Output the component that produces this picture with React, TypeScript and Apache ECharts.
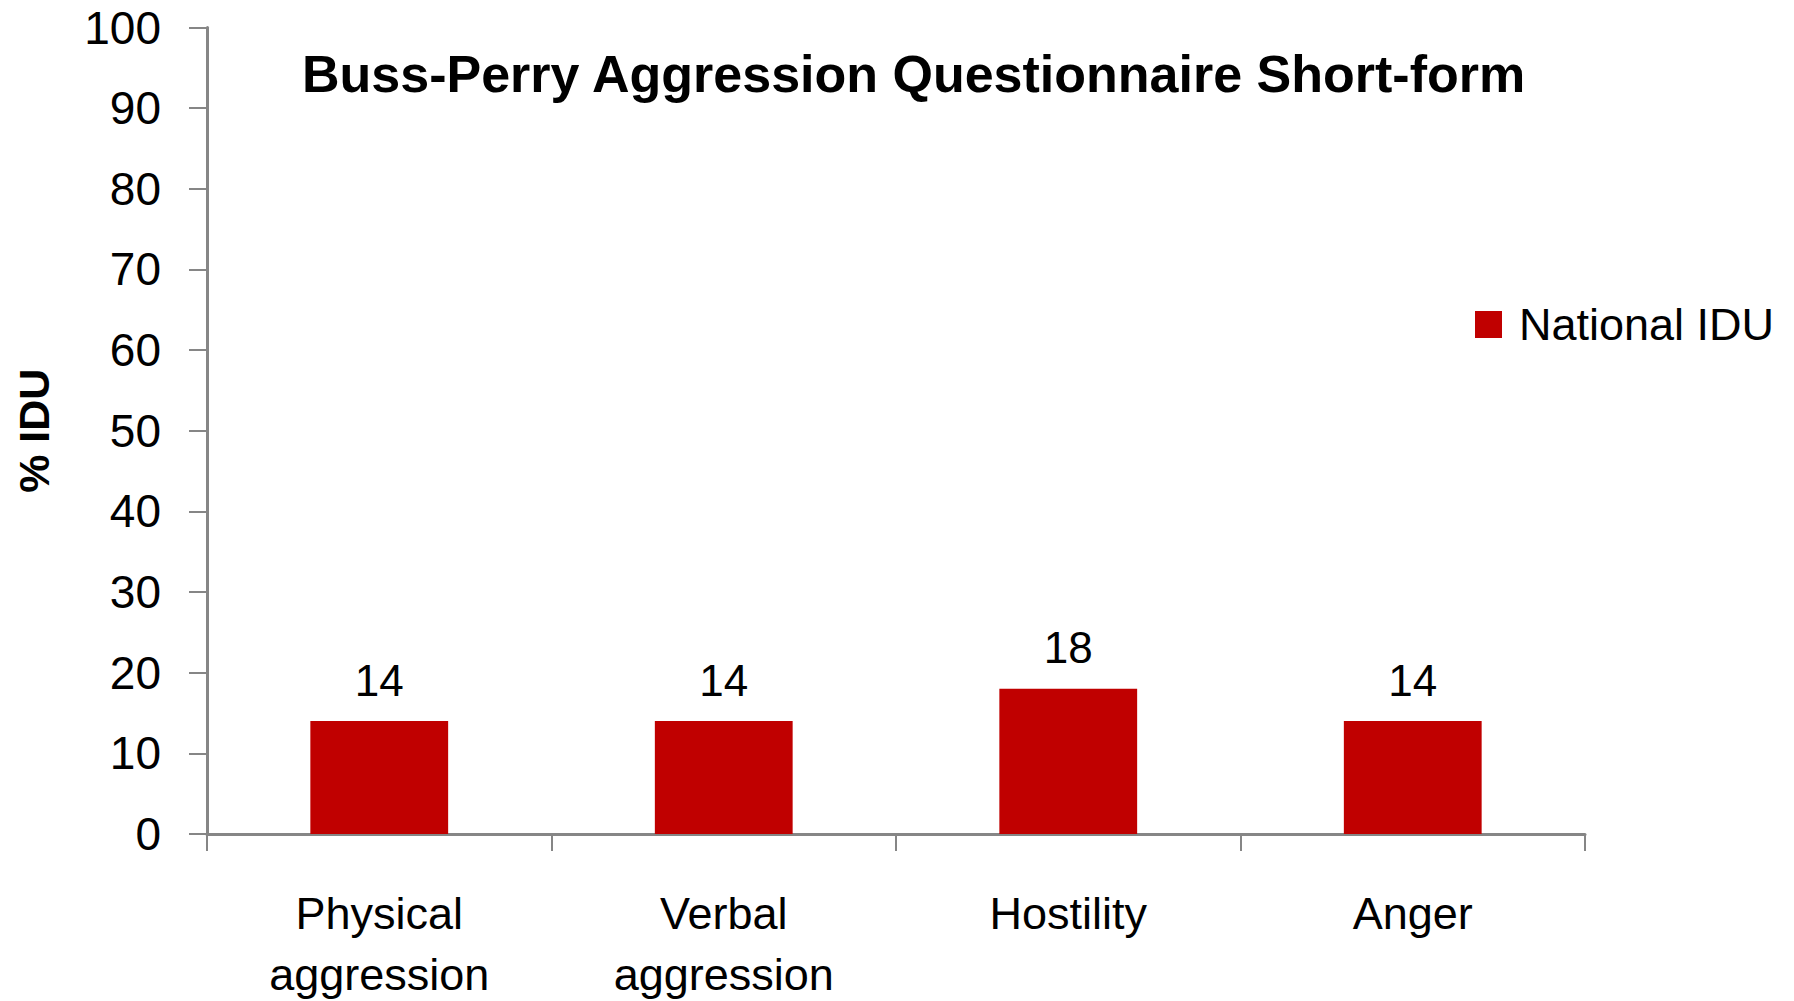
import React, { useEffect, useRef } from "react";
import * as echarts from "echarts";

const categories = ["Physical\naggression", "Verbal\naggression", "Hostility", "Anger"];
const nationalIDU = [14, 14, 18, 14];
const titleText = "Buss-Perry Aggression Questionnaire Short-form";
const seriesName = "National IDU";
const yAxisName = "% IDU";

const FONT = "Liberation Sans, Arial, sans-serif";
const AXIS_COLOR = "#868686";

export default function App() {
  const ref = useRef<HTMLDivElement>(null);
  useEffect(() => {
    document.body.style.margin = "0";
    const chart = echarts.init(ref.current!, null, { renderer: "svg" });
    chart.setOption({
      animation: false,
      backgroundColor: "#ffffff",
      textStyle: { fontFamily: FONT },
      title: {
        text: titleText,
        left: 297,
        top: 43,
        textStyle: { fontFamily: FONT, fontSize: 52, fontWeight: "bold", color: "#000" },
      },
      legend: {
        data: [seriesName],
        left: 1470,
        top: 297,
        itemWidth: 27,
        itemHeight: 27,
        icon: "rect",
        textStyle: { fontFamily: FONT, fontSize: 45, color: "#000", padding: [0, 0, 0, 12] },
      },
      grid: {
        left: 207,
        right: 209,
        top: 27.5,
        bottom: 167,
        containLabel: false,
        outerBoundsMode: "none",
      },
      xAxis: {
        type: "category",
        data: categories,
        boundaryGap: true,
        axisLine: { show: true, lineStyle: { color: AXIS_COLOR, width: 3 } },
        axisTick: { show: true, length: 17, alignWithLabel: false, lineStyle: { color: AXIS_COLOR, width: 2 } },
        axisLabel: {
          fontFamily: FONT,
          fontSize: 45,
          color: "#000",
          margin: 49,
          lineHeight: 61,
          interval: 0,
        },
      },
      yAxis: {
        type: "value",
        min: 0,
        max: 100,
        interval: 10,
        name: yAxisName,
        nameLocation: "middle",
        nameRotate: 90,
        nameGap: 152,
        nameTextStyle: { fontFamily: FONT, fontSize: 43, fontWeight: "bold", color: "#000" },
        axisLine: { show: true, lineStyle: { color: AXIS_COLOR, width: 3 } },
        axisTick: { show: true, length: 18, lineStyle: { color: AXIS_COLOR, width: 2 } },
        splitLine: { show: false },
        axisLabel: { fontFamily: FONT, fontSize: 46, color: "#000", margin: 46 },
      },
      series: [
        {
          name: seriesName,
          type: "bar",
          data: nationalIDU,
          barWidth: "40%",
          itemStyle: { color: "#C00000" },
          label: {
            show: true,
            position: "top",
            distance: 19,
            fontFamily: FONT,
            fontSize: 44,
            color: "#000",
          },
        },
      ],
    });
    return () => chart.dispose();
  }, []);
  return <div ref={ref} style={{ width: 1794, height: 1001 }} />;
}
